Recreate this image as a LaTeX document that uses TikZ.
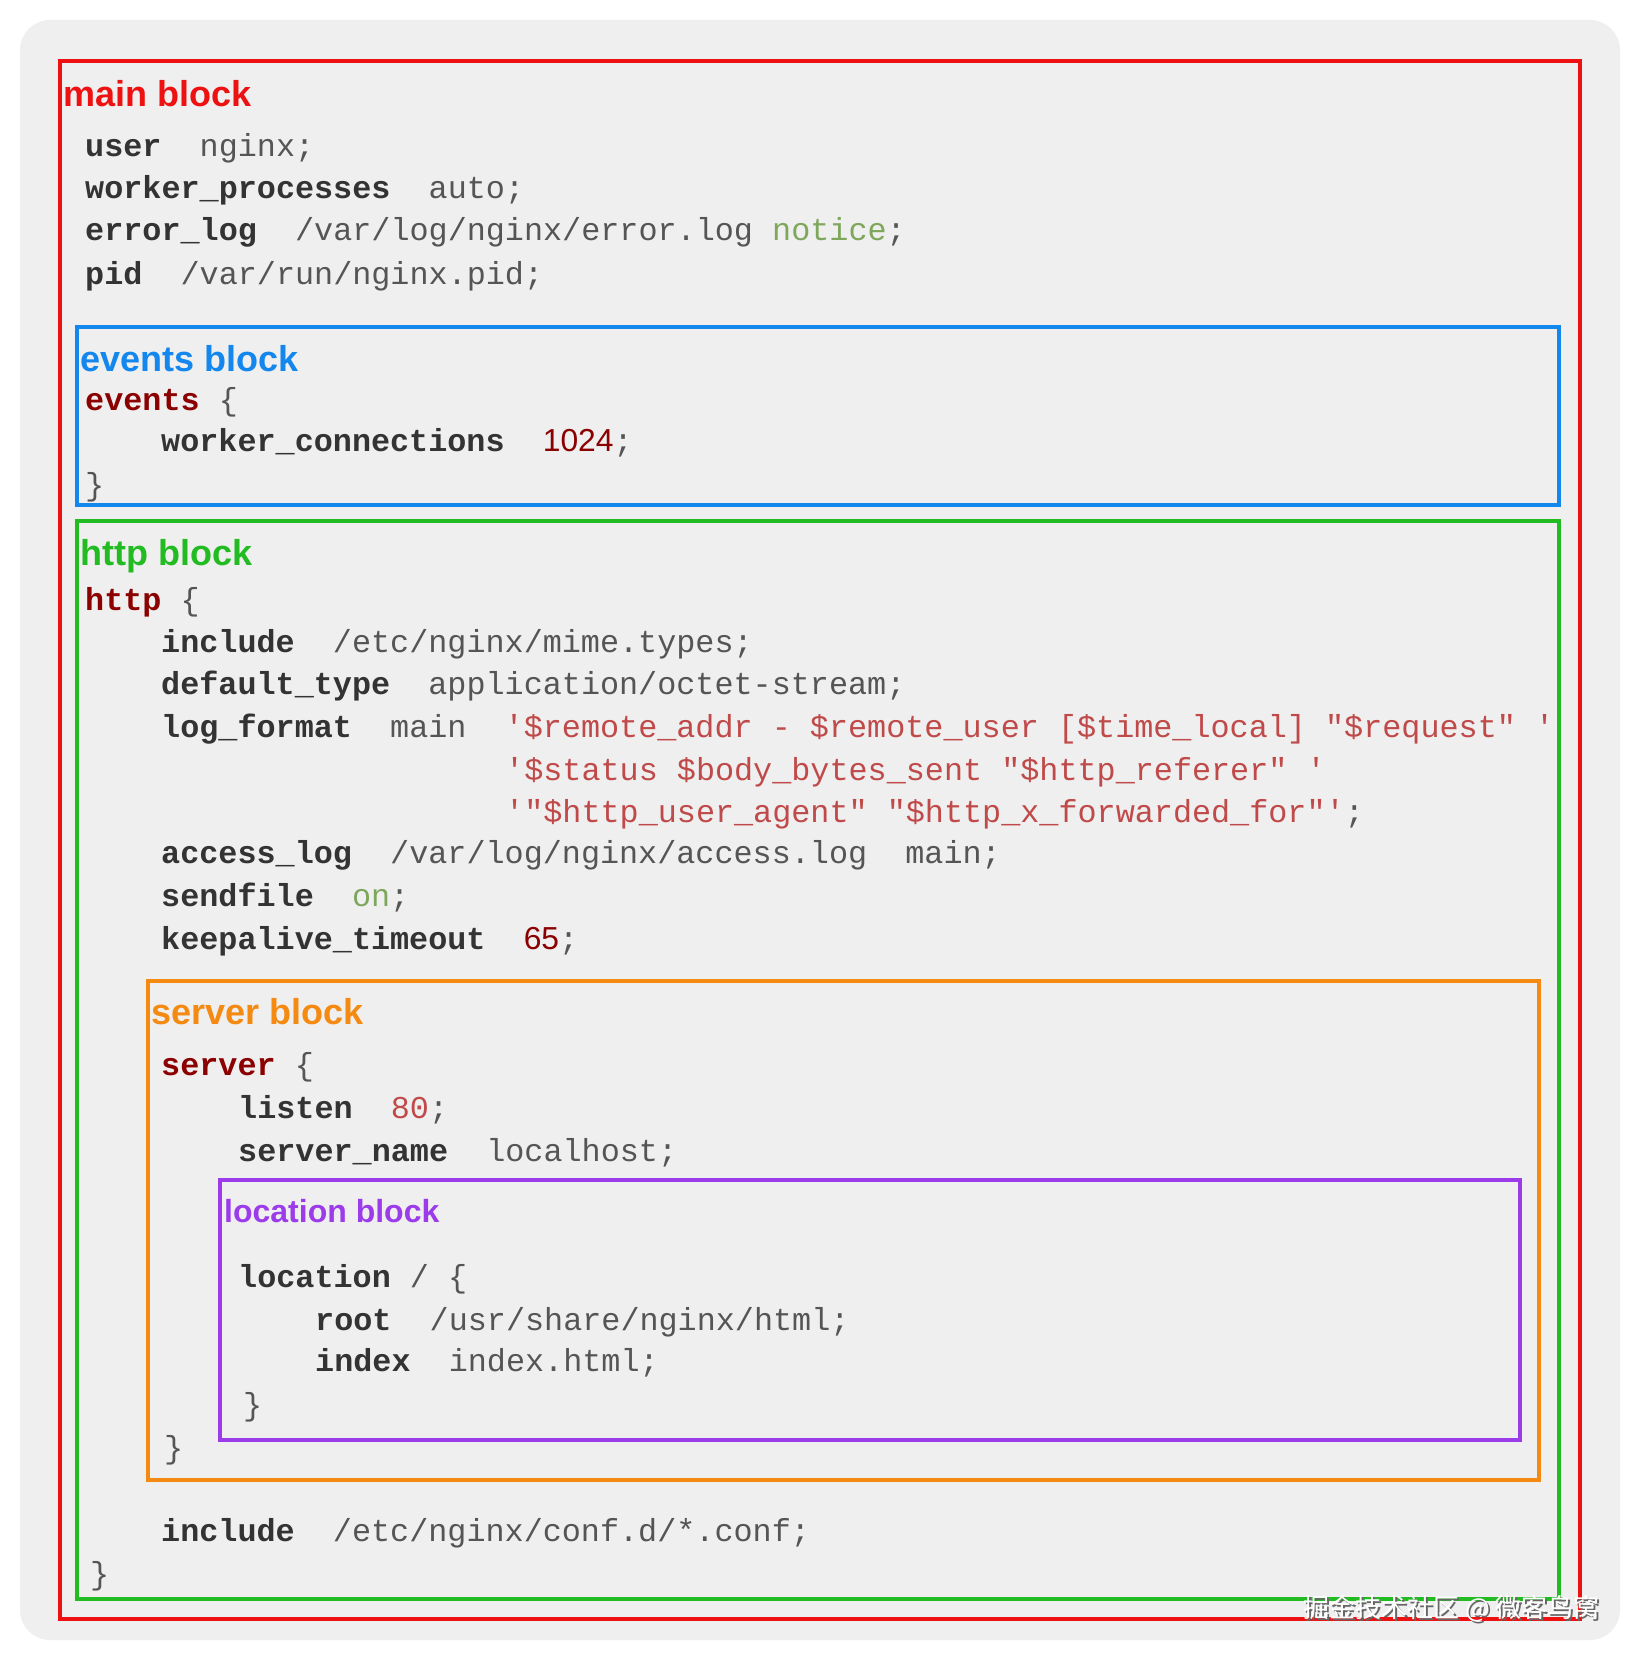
\documentclass[tikz,border=0pt]{standalone}
\usepackage{fontspec}
\setsansfont{Liberation Sans}
\newfontfamily\mono{Liberation Mono}
\newfontfamily\cjk{Noto Sans CJK SC}
\definecolor{bg}{HTML}{EFEFEF}
\definecolor{kw}{HTML}{333333}
\definecolor{val}{HTML}{555555}
\definecolor{str}{HTML}{C04A4A}
\definecolor{grn}{HTML}{7FA75C}
\definecolor{drd}{HTML}{8B0000}
\definecolor{cred}{HTML}{EE1111}
\definecolor{cblue}{HTML}{1487EE}
\definecolor{cgreen}{HTML}{22BB22}
\definecolor{corange}{HTML}{F58A12}
\definecolor{cpurple}{HTML}{9B3BEA}
\newcommand{\K}[1]{{\bfseries\color{kw}#1}}
\newcommand{\B}[1]{{\bfseries\color{drd}#1}}
\newcommand{\Sg}[1]{{\color{str}#1}}
\newcommand{\G}[1]{{\color{grn}#1}}
\newcommand{\N}[1]{{\sffamily\color{drd}#1}}
\newcommand{\q}{\char39}
\begin{document}
\begin{tikzpicture}[x=1pt,y=-1pt,
  code/.style={anchor=base west,inner sep=0pt,text=val,font=\mono\fontsize{31.8}{38}\selectfont},
  lbl/.style={anchor=base west,inner sep=0pt,font=\sffamily\bfseries\fontsize{36}{40}\selectfont},
  blk/.style={line width=3.5pt}]
\useasboundingbox (0,0) rectangle (1642,1662);
\fill[white] (0,0) rectangle (1642,1662);
\fill[bg,rounded corners=30pt] (20,20) rectangle (1620,1640);
% boxes
\draw[blk,cred] (60,61) rectangle (1580,1619);
\draw[blk,cblue] (77,327) rectangle (1559,505);
\draw[blk,cgreen] (77,521) rectangle (1559,1599);
\draw[blk,corange] (148,981) rectangle (1539,1480);
\draw[blk,cpurple] (220,1180) rectangle (1520,1440);
% main
\node[lbl,text=cred] (lmain) at (63,106) {main block};
\node[code] (c1) at (85,156) {\K{user}~~nginx;};
\node[code] (c2) at (85,198) {\K{worker\_processes}~~auto;};
\node[code] (c3) at (85,240) {\K{error\_log}~~/var/log/nginx/error.log \G{notice};};
\node[code] (c4) at (85,284) {\K{pid}~~/var/run/nginx.pid;};
% events
\node[lbl,text=cblue] (levents) at (80,371) {events block};
\node[code] (e1) at (85,410) {\B{events} \{};
\node[code] (e2) at (161,451) {\K{worker\_connections}~~\N{1024};};
\node[code] (e3) at (85,495) {\}};
% http
\node[lbl,text=cgreen] (lhttp) at (80,565) {http block};
\node[code] (h1) at (85,610) {\B{http} \{};
\node[code] (h2) at (161,652) {\K{include}~~/etc/nginx/mime.types;};
\node[code] (h3) at (161,694) {\K{default\_type}~~application/octet-stream;};
\node[code] (h4) at (161,737) {\K{log\_format}~~main~~\Sg{\q\$remote\_addr - \$remote\_user [\$time\_local] "\$request" \q}};
\node[code] (h5) at (505,780) {\Sg{\q\$status \$body\_bytes\_sent "\$http\_referer" \q}};
\node[code] (h6) at (505,822) {\Sg{\q"\$http\_user\_agent" "\$http\_x\_forwarded\_for"\q};};
\node[code] (h7) at (161,863) {\K{access\_log}~~/var/log/nginx/access.log~~main;};
\node[code] (h8) at (161,906) {\K{sendfile}~~\G{on};};
\node[code] (h9) at (161,949) {\K{keepalive\_timeout}~~\N{65};};
% server
\node[lbl,text=corange] (lserver) at (151,1024) {server block};
\node[code] (s1) at (161,1075) {\B{server} \{};
\node[code] (s2) at (238,1118) {\K{listen}~~\Sg{80};};
\node[code] (s3) at (238,1161) {\K{server\_name}~~localhost;};
% location
\node[lbl,text=cpurple,font=\sffamily\bfseries\fontsize{32}{38}\selectfont] (lloc) at (224,1222) {location block};
\node[code] (l1) at (238,1287) {\K{location} / \{};
\node[code] (l2) at (315,1330) {\K{root}~~/usr/share/nginx/html;};
\node[code] (l3) at (315,1371) {\K{index}~~index.html;};
\node[code] (l4) at (243,1415) {\}};
\node[code] (s4) at (164,1458) {\}};
\node[code] (h10) at (161,1541) {\K{include}~~/etc/nginx/conf.d/*.conf;};
\node[code] (h11) at (90,1584) {\}};
% watermark
\node[anchor=base east,inner sep=0pt,text=black!60,font=\cjk\fontsize{26}{30}\selectfont] (wm0) at (1602,1619) {掘金技术社区 @ 微客鸟窝};
\node[anchor=base east,inner sep=0pt,text=white,font=\cjk\fontsize{26}{30}\selectfont] (wm) at (1600,1617) {掘金技术社区 @ 微客鸟窝};
\end{tikzpicture}
\end{document}
